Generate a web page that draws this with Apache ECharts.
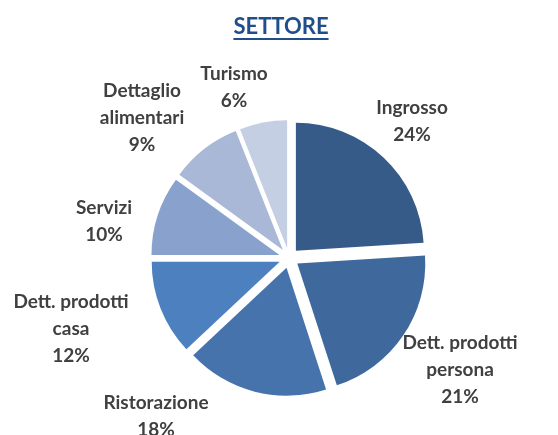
<!DOCTYPE html>
<html>
<head>
<meta charset="utf-8">
<script src="https://cdn.jsdelivr.net/npm/echarts@6/dist/echarts.min.js"></script>
<style>
  html, body { margin: 0; padding: 0; background: #fff; }
  #chart { width: 558px; height: 435px; }
</style>
</head>
<body>
<div id="chart"></div>
<script>
var categories = ['Ingrosso', 'Dett. prodotti\npersona', 'Ristorazione', 'Dett. prodotti\ncasa', 'Servizi', 'Dettaglio\nalimentari', 'Turismo'];
var values = [24, 21, 18, 12, 10, 9, 6];
var colors = ['#365B88', '#3F699D', '#4673AC', '#4C80BF', '#88A2CD', '#A9B8D6', '#C4CFE3'];

// where each label block is centred (Excel "best fit" placement)
var labelCenters = [[412, 121], [460, 370], [156, 416], [71, 329], [104, 221], [142, 118], [234, 87]];

var titleText = 'SETTORE';
var titleFont = 'bold 22px Lato';
var titleX = 281, titleY = 27;
var labelFont = 'bold 19px Lato';

var ctx = document.createElement('canvas').getContext('2d');
ctx.font = titleFont;
var titleW = ctx.measureText(titleText).width;

var total = values.reduce(function (a, b) { return a + b; }, 0);

var chart = echarts.init(document.getElementById('chart'), null, { renderer: 'canvas' });

var graphics = [{
    type: 'text',
    x: titleX,
    y: titleY,
    style: {
        text: titleText,
        font: titleFont,
        fill: '#1F4E8A',
        align: 'center',
        verticalAlign: 'middle'
    }
}, {
    type: 'rect',
    shape: { x: titleX - titleW / 2, y: titleY + 11, width: titleW, height: 2 },
    style: { fill: '#1F4E8A' }
}];

categories.forEach(function (name, i) {
    graphics.push({
        type: 'text',
        x: labelCenters[i][0],
        y: labelCenters[i][1],
        style: {
            text: name + '\n' + Math.round(values[i] / total * 100) + '%',
            font: labelFont,
            lineHeight: 27,
            fill: '#404040',
            align: 'center',
            verticalAlign: 'middle'
        }
    });
});

var option = {
    backgroundColor: '#fff',
    animation: false,
    graphic: graphics,
    series: [{
        type: 'pie',
        center: [289, 258],
        radius: [0, 128],
        startAngle: 90,
        clockwise: true,
        selectedMode: 'multiple',
        selectedOffset: 10,
        emphasis: { disabled: true },
        itemStyle: { borderWidth: 0 },
        label: { show: false },
        labelLine: { show: false },
        data: categories.map(function (name, i) {
            return {
                name: name,
                value: values[i],
                selected: true,
                itemStyle: { color: colors[i] },
                select: { itemStyle: { color: colors[i] } }
            };
        })
    }]
};
chart.setOption(option);
</script>
</body>
</html>
